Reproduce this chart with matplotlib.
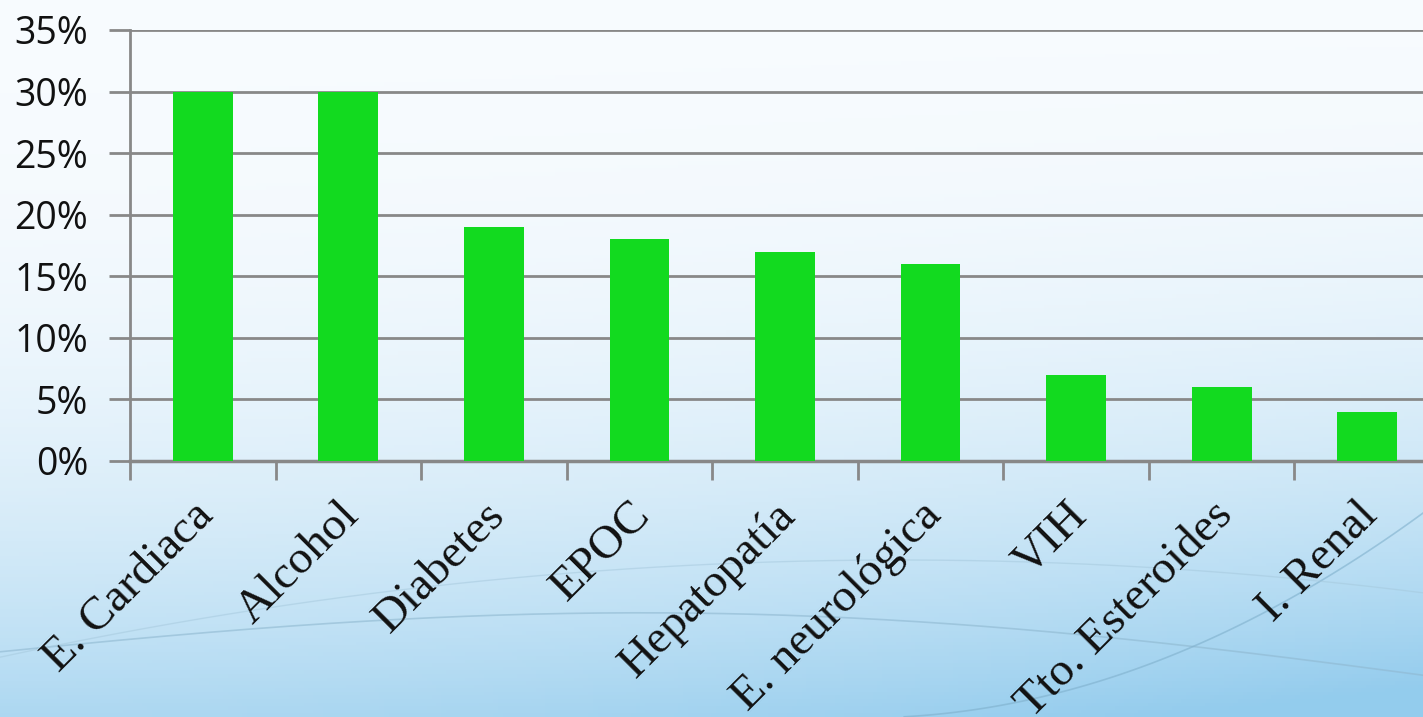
import numpy as np
import matplotlib.pyplot as plt

categories = ['E. Cardiaca', 'Alcohol', 'Diabetes', 'EPOC', 'Hepatopatía',
              'E. neurológica', 'VIH', 'Tto. Esteroides', 'I. Renal']
values = [30, 30, 19, 18, 17, 16, 7, 6, 4]
yticks = [0, 5, 10, 15, 20, 25, 30, 35]

W, H = 1423, 717
fig = plt.figure(figsize=(W / 100, H / 100), dpi=100)

# background: pale gradient, bluer towards the bottom right
bg = fig.add_axes([0, 0, 1, 1])
yy, xx = np.mgrid[0:1:200j, 0:1:300j]
t = np.clip(0.75 * yy ** 2.6 + 0.35 * (xx * yy) ** 1.7, 0, 1)
top = np.array([0.97, 0.985, 0.997])
bot = np.array([0.58, 0.80, 0.93])
img = top + (bot - top) * t[..., None]
bg.imshow(img, extent=[0, W, H, 0], aspect='auto')
# faint decorative swooshes
sx = np.linspace(0, W, 300)
bg.plot(sx, 650 - 40 * np.sin(np.pi * sx / W) + 0.00002 * (sx - 300) ** 2, color='#8fb8d0', lw=1.2, alpha=0.6)
bg.plot(sx[sx > 900], 717 - 0.00065 * (sx[sx > 900] - 900) ** 2 - 0.05 * (sx[sx > 900] - 900), color='#7fb0cc', lw=1.2, alpha=0.6)
bg.plot(sx, 560 + 0.00012 * (sx - 900) ** 2, color='#a5c8dc', lw=1.0, alpha=0.5)
bg.set_xlim(0, W)
bg.set_ylim(H, 0)
bg.axis('off')

ax = fig.add_axes([130 / W, 1 - 461 / H, 1310 / W, 431 / H])
ax.patch.set_alpha(0)
x = np.arange(len(categories))
ax.bar(x, values, width=0.41, color='#12da1f', zorder=3)
ax.set_xlim(-0.5, len(categories) - 0.5)
ax.set_ylim(0, 35)

ax.set_yticks(yticks)
ax.set_yticklabels([f'{v}%' for v in yticks], fontsize=27, family='Open Sans',
                   color='#111111')
ax.yaxis.grid(True, color='#888888', lw=2, zorder=1)
ax.tick_params(axis='y', length=15, width=2, color='#888888', pad=15)

ax.set_xticks(np.arange(len(categories) + 1) - 0.5)
ax.set_xticklabels([])
ax.tick_params(axis='x', length=14, width=2, color='#888888')
for i, c in enumerate(categories):
    ax.text(i + 0.03, -3.9, c, rotation=45, ha='right', va='center',
            rotation_mode='anchor', fontsize=34, family='Liberation Serif',
            color='#111111')

for s in ['top', 'right']:
    ax.spines[s].set_visible(False)
ax.spines['left'].set_color('#888888')
ax.spines['left'].set_linewidth(2)
ax.spines['bottom'].set_color('#888888')
ax.spines['bottom'].set_linewidth(2.5)

fig.savefig('out.png', dpi=100)
